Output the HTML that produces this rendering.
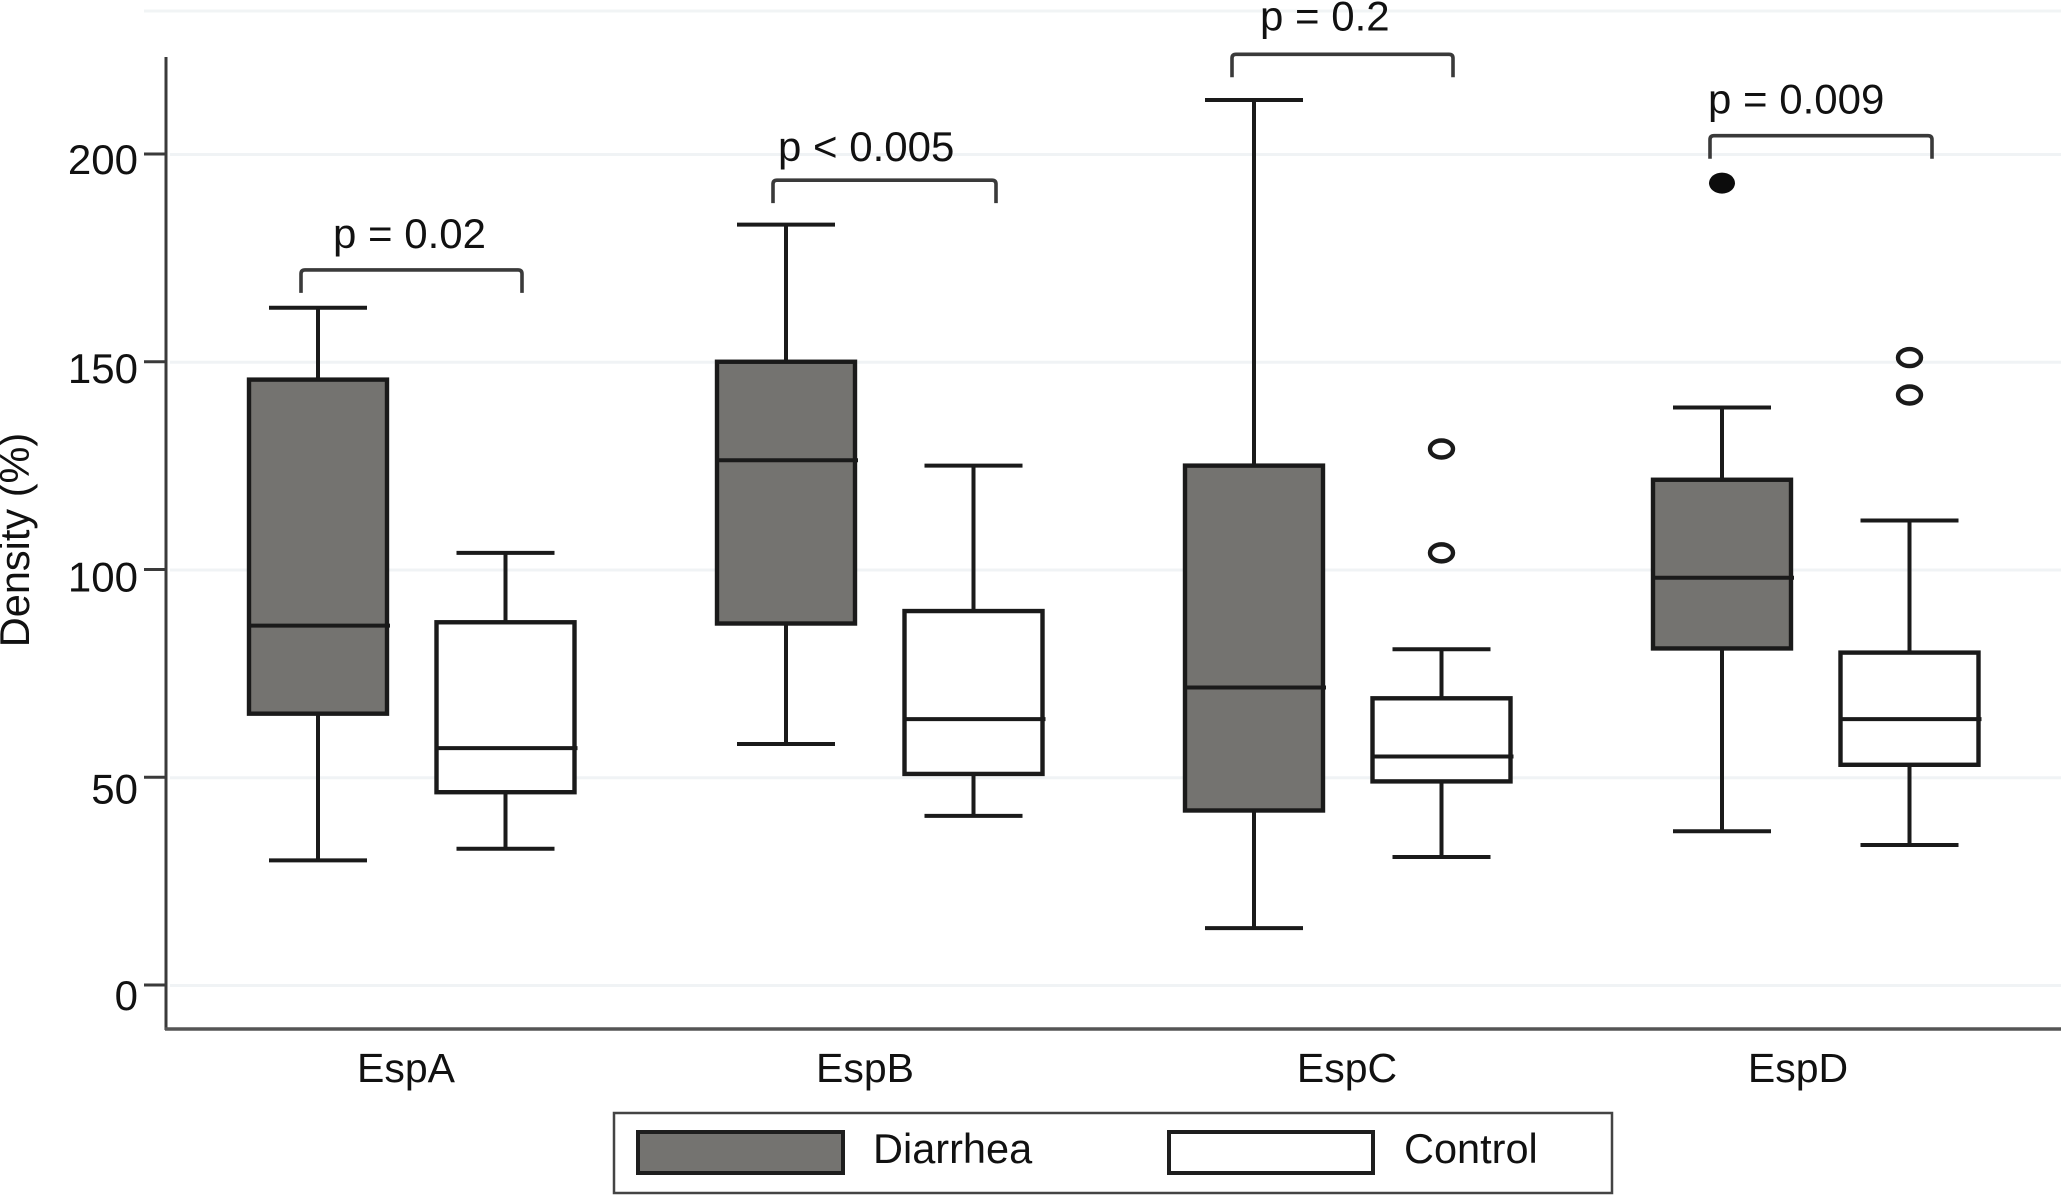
<!DOCTYPE html>
<html lang="en">
<head>
<meta charset="utf-8">
<title>Density box plot</title>
<style>
html,body{margin:0;padding:0;background:#fff;width:2061px;height:1197px;overflow:hidden}
svg{display:block;position:absolute;left:0;top:0}
text{font-family:"Liberation Sans",Arial,sans-serif;font-size:41px;fill:#111}
</style>
</head>
<body>
<svg id="chart" width="2061" height="1197" viewBox="0 0 2061 1197" xmlns="http://www.w3.org/2000/svg">
  <line x1="144" y1="11" x2="2061" y2="11" stroke="#f1f4f5" stroke-width="3"/>
  <g id="grid"></g>
  <g id="marks"></g>
  <g id="annot"></g>
  <g id="axes">
    <line x1="166" y1="57" x2="166" y2="1030" stroke="#3a3a3a" stroke-width="3"/>
    <line x1="165" y1="1029" x2="2061" y2="1029" stroke="#555" stroke-width="3.5"/>
  </g>
  <text transform="translate(29,540) rotate(-90)" text-anchor="middle" style="font-size:41.5px">Density (%)</text>
  <g>
    <rect x="614" y="1113" width="998" height="80" fill="#fff" stroke="#444" stroke-width="2.5"/>
    <rect x="638" y="1132" width="205" height="41" fill="#747370" stroke="#1e1e1e" stroke-width="4"/>
    <text x="873" y="1163" style="font-size:41.5px">Diarrhea</text>
    <rect x="1169" y="1132" width="204" height="41" fill="#fff" stroke="#1e1e1e" stroke-width="4"/>
    <text x="1404" y="1163" style="font-size:41.5px">Control</text>
  </g>
</svg>
<script>
const categories = ['EspA', 'EspB', 'EspC', 'EspD'];
const yTicks = [0, 50, 100, 150, 200];

const diarrheaLow = [30, 58, 13.7, 37];
const diarrheaQ1 = [65.3, 87, 42, 81];
const diarrheaMedian = [86.5, 126.3, 71.6, 98];
const diarrheaQ3 = [145.7, 150, 125, 121.6];
const diarrheaHigh = [163, 183, 213, 139];
const diarrheaOutliers = [[], [], [], [193]];

const controlLow = [32.8, 40.7, 30.8, 33.7];
const controlQ1 = [46.4, 50.8, 49, 53];
const controlMedian = [57, 64, 55, 64];
const controlQ3 = [87.3, 90, 69, 80];
const controlHigh = [104, 125, 80.8, 111.8];
const controlOutliers = [[], [], [104, 129], [142, 151]];

const pLabels = ['p = 0.02', 'p < 0.005', 'p = 0.2', 'p = 0.009'];
const bracketLevels = [172.1, 193.7, 224, 204.4];

const SVG_NS = 'http://www.w3.org/2000/svg';
const yScale = v => 985 - v * 4.155;
const xCategory = i => 318 + i * 468;
const seriesOffset = { diarrhea: 0, control: 187.5 };
const BOX_W = 138, CAP_W = 98;
const labelNudge = [-6, -15, -1, -18];
const tickLabelNudge = [25, 26, 22, 21, 20];
const bracketLeftNudge = [-17, -13, -22, -12];
const bracketRightNudge = [204, 210, 199, 210];
const pLabelX = [32, 5, 28, -2];
const pLabelDrop = [-22, -19, -24, -22];
const INK = '#1a1a1a';

function make(parent, tag, attrs, text) {
  const el = document.createElementNS(SVG_NS, tag);
  for (const k in attrs) el.setAttribute(k, attrs[k]);
  if (text !== undefined) el.textContent = text;
  parent.appendChild(el);
  return el;
}

const grid = document.getElementById('grid');
const axes = document.getElementById('axes');
yTicks.forEach((t, i) => {
  const y = yScale(t);
  const g = make(grid, 'line', { x1: 170, y1: y + 0.5, x2: 2061, y2: y + 0.5, stroke: '#f0f3f5', 'stroke-width': 3 });
  
  
  const tick = make(axes, 'line', { x1: 144, y1: y, x2: 166, y2: y, stroke: '#3a3a3a', 'stroke-width': 3 });
  
  
  const lab = make(axes, 'text', { x: 138, y: y + tickLabelNudge[i], 'text-anchor': 'end', style: 'font-size:42px' }, String(t));
  
  
});

categories.forEach((c, i) => {
  const lab = make(axes, 'text', { x: xCategory(i) + 94 + labelNudge[i], y: 1082, 'text-anchor': 'middle' }, c);
  
  
});

const marks = document.getElementById('marks');
function drawBox(i, series, fill, low, q1, med, q3, high, outliers) {
  const cx = xCategory(i) + seriesOffset[series];
  const group = make(marks, 'g', {});
  
  

  const whisker = make(group, 'path', {
    d: 'M' + cx + ' ' + yScale(high[i]) + 'V' + yScale(q3[i]) + 'M' + cx + ' ' + yScale(q1[i]) + 'V' + yScale(low[i]),
    stroke: INK, 'stroke-width': 4, fill: 'none'
  });
  
  

  const capHigh = make(group, 'line', { x1: cx - CAP_W / 2, x2: cx + CAP_W / 2, y1: yScale(high[i]), y2: yScale(high[i]), stroke: INK, 'stroke-width': 4 });
  
  

  const capLow = make(group, 'line', { x1: cx - CAP_W / 2, x2: cx + CAP_W / 2, y1: yScale(low[i]), y2: yScale(low[i]), stroke: INK, 'stroke-width': 4 });
  
  

  const box = make(group, 'rect', { x: cx - BOX_W / 2, y: yScale(q3[i]), width: BOX_W, height: yScale(q1[i]) - yScale(q3[i]), fill: fill, stroke: INK, 'stroke-width': 4.4 });
  
  

  const median = make(group, 'line', { x1: cx - BOX_W / 2, x2: cx + BOX_W / 2 + 3, y1: yScale(med[i]), y2: yScale(med[i]), stroke: INK, 'stroke-width': 4 });
  
  

  outliers[i].forEach(v => {
    const filled = series === 'diarrhea';
    const dot = make(group, 'ellipse', {
      cx: cx, cy: yScale(v),
      rx: filled ? 13 : 11.5, ry: filled ? 10.5 : 8.5,
      fill: filled ? '#0c0c0c' : '#fff',
      stroke: filled ? 'none' : INK, 'stroke-width': 4.4
    });
    
    
  });
}

categories.forEach((c, i) => {
  drawBox(i, 'diarrhea', '#747370', diarrheaLow, diarrheaQ1, diarrheaMedian, diarrheaQ3, diarrheaHigh, diarrheaOutliers);
  drawBox(i, 'control', '#fff', controlLow, controlQ1, controlMedian, controlQ3, controlHigh, controlOutliers);
});

const annot = document.getElementById('annot');
categories.forEach((c, i) => {
  const top = yScale(bracketLevels[i]);
  const x0 = xCategory(i) + bracketLeftNudge[i];
  const x1 = xCategory(i) + bracketRightNudge[i];
  const br = make(annot, 'path', {
    d: 'M' + x0 + ' ' + (top + 23) + 'V' + (top + 4) + 'Q' + x0 + ' ' + top + ' ' + (x0 + 4) + ' ' + top +
       'H' + (x1 - 4) + 'Q' + x1 + ' ' + top + ' ' + x1 + ' ' + (top + 4) + 'V' + (top + 23),
    fill: 'none', stroke: '#3a3a3a', 'stroke-width': 3.6
  });
  
  
  const lab = make(annot, 'text', { x: x0 + pLabelX[i], y: top + pLabelDrop[i], style: 'font-size:42px' }, pLabels[i]);
  
  
});
</script>
</body>
</html>
